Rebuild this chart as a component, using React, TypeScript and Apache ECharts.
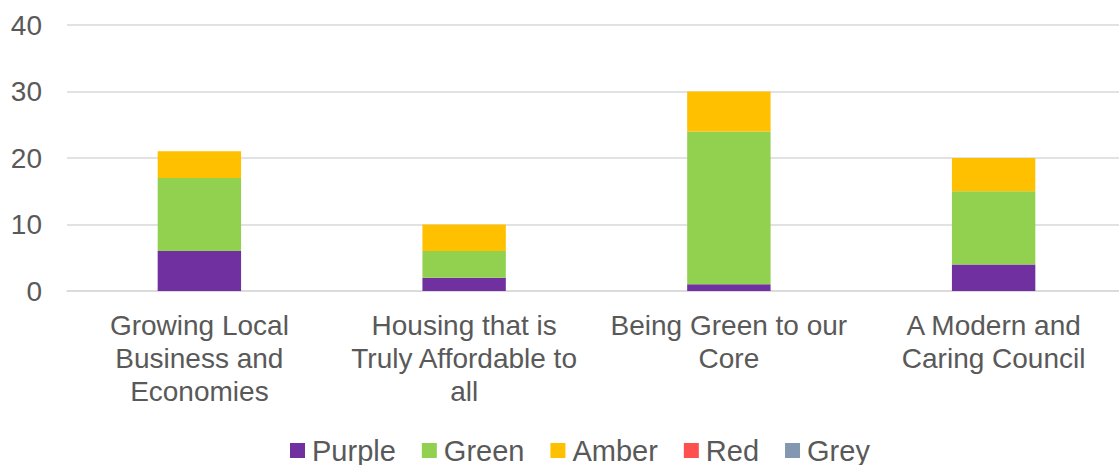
import React, { useEffect, useRef } from "react";
import * as echarts from "echarts";

const categories = [
  "Growing Local\nBusiness and\nEconomies",
  "Housing that is\nTruly Affordable to\nall",
  "Being Green to our\nCore",
  "A Modern and\nCaring Council",
];
const purple = [6, 2, 1, 4];
const green = [11, 4, 23, 11];
const amber = [4, 4, 6, 5];
const red = [0, 0, 0, 0];
const grey = [0, 0, 0, 0];

const seriesNames = ["Purple", "Green", "Amber", "Red", "Grey"];
const seriesColors = ["#7030A0", "#92D050", "#FFC000", "#FF5050", "#8497B0"];
const seriesData = [purple, green, amber, red, grey];

export default function App() {
  const ref = useRef<HTMLDivElement>(null);
  useEffect(() => {
    if (!ref.current) return;
    const chart = echarts.init(ref.current, undefined, { renderer: "svg" });
    const font = "'Liberation Sans', Arial, sans-serif";
    chart.setOption({
      animation: false,
      textStyle: { fontFamily: font },
      grid: { left: 67, right: 0, top: 25, bottom: 174 },
      legend: {
        top: 436,
        left: 290,
        padding: 0,
        itemWidth: 15,
        itemHeight: 15,
        itemGap: 26,
        icon: "rect",
        textStyle: { fontSize: 29, lineHeight: 28, color: "#595959", fontFamily: font, padding: [0, 0, 0, 2] },
        data: seriesNames,
      },
      xAxis: {
        type: "category",
        data: categories,
        axisLine: { show: true, lineStyle: { color: "#D9D9D9", width: 1.5 } },
        axisTick: { show: false },
        axisLabel: {
          color: "#595959",
          fontSize: 28,
          lineHeight: 33,
          margin: 18,
          interval: 0,
          fontFamily: font,
        },
      },
      yAxis: {
        type: "value",
        min: 0,
        max: 40,
        interval: 10,
        axisLine: { show: false },
        axisTick: { show: false },
        axisLabel: { color: "#595959", fontSize: 28, margin: 25, fontFamily: font },
        splitLine: { lineStyle: { color: "#D9D9D9", width: 1.5 } },
      },
      series: seriesNames.map((name, i) => ({
        name,
        type: "bar",
        stack: "total",
        barWidth: "31.5%",
        data: seriesData[i],
        itemStyle: { color: seriesColors[i] },
      })),
    });
    return () => chart.dispose();
  }, []);
  return (
    <div style={{ position: "fixed", left: 0, top: 0, width: 1119, height: 465, overflow: "hidden", background: "#fff" }}>
      <div ref={ref} style={{ position: "absolute", left: 0, top: 0, width: 1126, height: 465 }} />
    </div>
  );
}
